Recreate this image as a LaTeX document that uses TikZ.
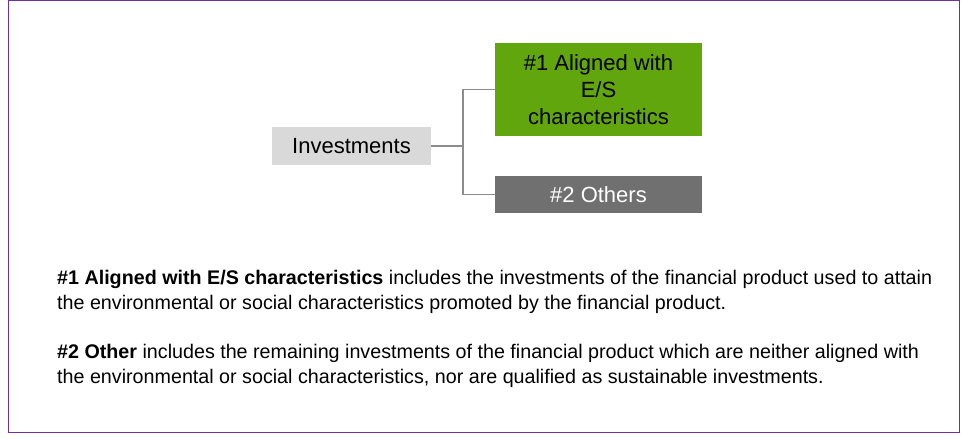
\documentclass[tikz,border=0pt]{standalone}
\usepackage{fontspec}
\setmainfont{Liberation Sans}
\usetikzlibrary{positioning}
\definecolor{esgreen}{HTML}{62A60E}
\definecolor{othgray}{HTML}{707070}
\definecolor{invgray}{HTML}{D9D9D9}
\definecolor{linegray}{HTML}{8C8C8C}
\definecolor{framepurple}{HTML}{7030A0}
\begin{document}
\begin{tikzpicture}[x=1pt, y=-1pt, box node/.style={rectangle,inner sep=0pt,font=\fontsize{22}{27}\selectfont,align=center},
  desc node/.style={anchor=base west,inner sep=0pt,align=left,font=\fontsize{19.7}{25}\selectfont}]
\useasboundingbox (0,0) rectangle (961,439);
\draw [framepurple, line width=1.3pt] (8.5,0.5) rectangle (959.5,432.5);
\begin{scope}
\node [box node,fill=invgray,minimum width=159pt,minimum height=38pt](inv) at (351.5,146) {Investments};
\node [box node,fill=esgreen,minimum width=207pt,minimum height=93pt](align) at (598.5,89.5) {\#1 Aligned with\\E/S\\characteristics};
\node [box node,fill=othgray,text=white,minimum width=207pt,minimum height=37pt](others) at (598.5,194.5) {\#2 Others};
\end{scope}
\coordinate (split) at (463,146);
\draw [linegray, line width=1.2pt] (inv.east) -- (split) |- (align.west);
\draw [linegray, line width=1.2pt] (split) |- (others.west);
\node [desc node](desc1) at (57,309) {\textbf{\#1 Aligned with E/S characteristics} includes the investments of the financial product used to attain\\the environmental or social characteristics promoted by the financial product.};
\node [desc node](desc2) at (57,383) {\textbf{\#2 Other} includes the remaining investments of the financial product which are neither aligned with\\the environmental or social characteristics, nor are qualified as sustainable investments.};
\end{tikzpicture}
\end{document}
